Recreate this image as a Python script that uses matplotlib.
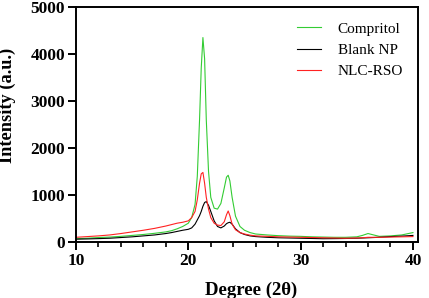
import matplotlib
matplotlib.use("Agg")
import matplotlib.pyplot as plt
from matplotlib.ticker import MultipleLocator

plt.rcParams['font.family'] = ['Liberation Serif', 'DejaVu Serif']

# 2-theta grid (degrees)
theta = [10, 11, 12, 13, 14, 15, 16, 17, 18, 18.5, 19, 19.5, 20, 20.3, 20.6, 20.8,
         21.0, 21.15, 21.3, 21.45, 21.6, 21.8, 22.0, 22.3, 22.6, 22.9, 23.2, 23.4,
         23.55, 23.7, 23.9, 24.2, 24.6, 25, 25.5, 26, 27, 28, 29, 30, 31, 32, 33,
         34, 35, 35.5, 36, 36.5, 37, 38, 39, 40]

compritol = [70, 80, 95, 105, 120, 140, 160, 185, 215, 240, 280, 330, 400, 520, 800, 1400,
             2600, 3700, 4350, 3900, 2600, 1500, 950, 720, 700, 820, 1150, 1380,
             1420, 1300, 950, 550, 330, 250, 200, 170, 150, 135, 125, 120, 110, 105, 100,
             100, 110, 140, 180, 150, 120, 130, 150, 200]

blank_np = [60, 65, 72, 80, 95, 110, 130, 150, 180, 200, 225, 250, 270, 300, 380, 470,
            560, 650, 760, 840, 860, 780, 650, 450, 330, 300, 340, 390,
            410, 420, 380, 280, 200, 160, 130, 115, 100, 90, 85, 80, 75, 70, 72,
            75, 80, 85, 90, 95, 100, 115, 125, 140]

nlc_rso = [100, 115, 130, 150, 180, 215, 250, 290, 340, 370, 400, 420, 450, 520, 650, 900,
           1250, 1450, 1480, 1250, 950, 700, 520, 400, 360, 350, 430, 580,
           660, 560, 380, 260, 200, 170, 145, 130, 120, 110, 105, 100, 95, 90, 85,
           80, 85, 90, 100, 100, 100, 105, 110, 115]

fig = plt.figure(figsize=(4.29, 2.98), dpi=100)
ax = fig.add_axes([76/429, 1 - 242/298, (418-76)/429, (242-7)/298])

ax.plot(theta, compritol, color='#33cc33', lw=0.8, label='Compritol')
ax.plot(theta, blank_np, color='black', lw=0.8, label='Blank NP')
ax.plot(theta, nlc_rso, color='#ff2222', lw=0.8, label='NLC-RSO')

ax.set_xlim(10, 40.45)
ax.set_ylim(0, 5000)
ax.xaxis.set_major_locator(MultipleLocator(10))
ax.xaxis.set_minor_locator(MultipleLocator(2))
ax.yaxis.set_major_locator(MultipleLocator(1000))

for s in ax.spines.values():
    s.set_linewidth(1.4)
ax.tick_params(axis='both', which='major', direction='out', length=6, width=1.4,
               labelsize=12.5, pad=2)
ax.tick_params(axis='x', which='minor', direction='out', length=3.5, width=1.2)
for lab in ax.get_xticklabels() + ax.get_yticklabels():
    lab.set_fontweight('bold')

ax.set_xlabel('Degree (2θ)', fontsize=13.5, fontweight='bold')
ax.set_ylabel('Intensity (a.u.)', fontsize=13.2, fontweight='bold')
ax.xaxis.set_label_coords((251 - 76) / 342, -(282 - 242) / 235)
ax.yaxis.set_label_coords(-(76 - 16) / 342, 1 - (105.5 - 7) / 235)

leg = ax.legend(loc='upper right', frameon=False, fontsize=11, handlelength=1.55,
                handletextpad=1.1, labelspacing=0.5, borderaxespad=0,
                bbox_to_anchor=((409 - 76) / 342, 1 - (16 - 7) / 235))

fig.savefig('out.png', dpi=100)
